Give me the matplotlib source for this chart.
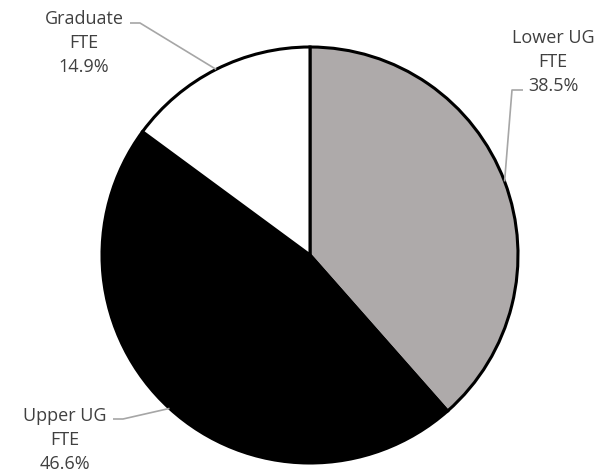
import numpy as np
import matplotlib
matplotlib.use("Agg")
import matplotlib.pyplot as plt

categories = ["Lower UG FTE", "Upper UG FTE", "Graduate FTE"]
values = [38.5, 46.6, 14.9]
label_names = ["Lower UG\nFTE", "Upper UG\nFTE", "Graduate\nFTE"]
colors = ["#aeaaaa", "#000000", "#ffffff"]

W, H = 607, 474
fig = plt.figure(figsize=(W / 100, H / 100), dpi=100)
ax = fig.add_axes([0, 0, 1, 1])
ax.set_xlim(0, W)
ax.set_ylim(0, H)
ax.set_aspect("equal")
ax.axis("off")

cx, cy, R = 310, H - 255, 208
wedges, _ = ax.pie(values, colors=colors, startangle=90, counterclock=False,
                   center=(cx, cy), radius=R, frame=True,
                   wedgeprops=dict(edgecolor="black", linewidth=2.2))
ax.set_xlim(0, W)
ax.set_ylim(0, H)
ax.axis("off")

# label block centers (pixel coords, y down) and leader elbow points
label_pos = [(553, 62), (65, 440), (84, 43)]
elbows = [((523, 90), (512, 90)), ((113, 419), (123, 419)), ((130, 23), (140, 23))]
text_color = "#404040"
line_color = "#a6a6a6"

for w, name, v, (lx, ly), (p0, p1) in zip(wedges, label_names, values, label_pos, elbows):
    ang = np.deg2rad((w.theta1 + w.theta2) / 2)
    ax_pt = (cx + R * np.cos(ang), cy + R * np.sin(ang))
    xs = [p0[0], p1[0], ax_pt[0]]
    ys = [H - p0[1], H - p1[1], ax_pt[1]]
    ax.plot(xs, ys, color=line_color, lw=1.2, zorder=5, solid_capstyle="butt")
    ax.text(lx, H - ly, f"{name}\n{v:.1f}%", ha="center", va="center",
            fontsize=13, color=text_color, family="Open Sans", linespacing=1.45)

fig.savefig("out.png", dpi=100)
